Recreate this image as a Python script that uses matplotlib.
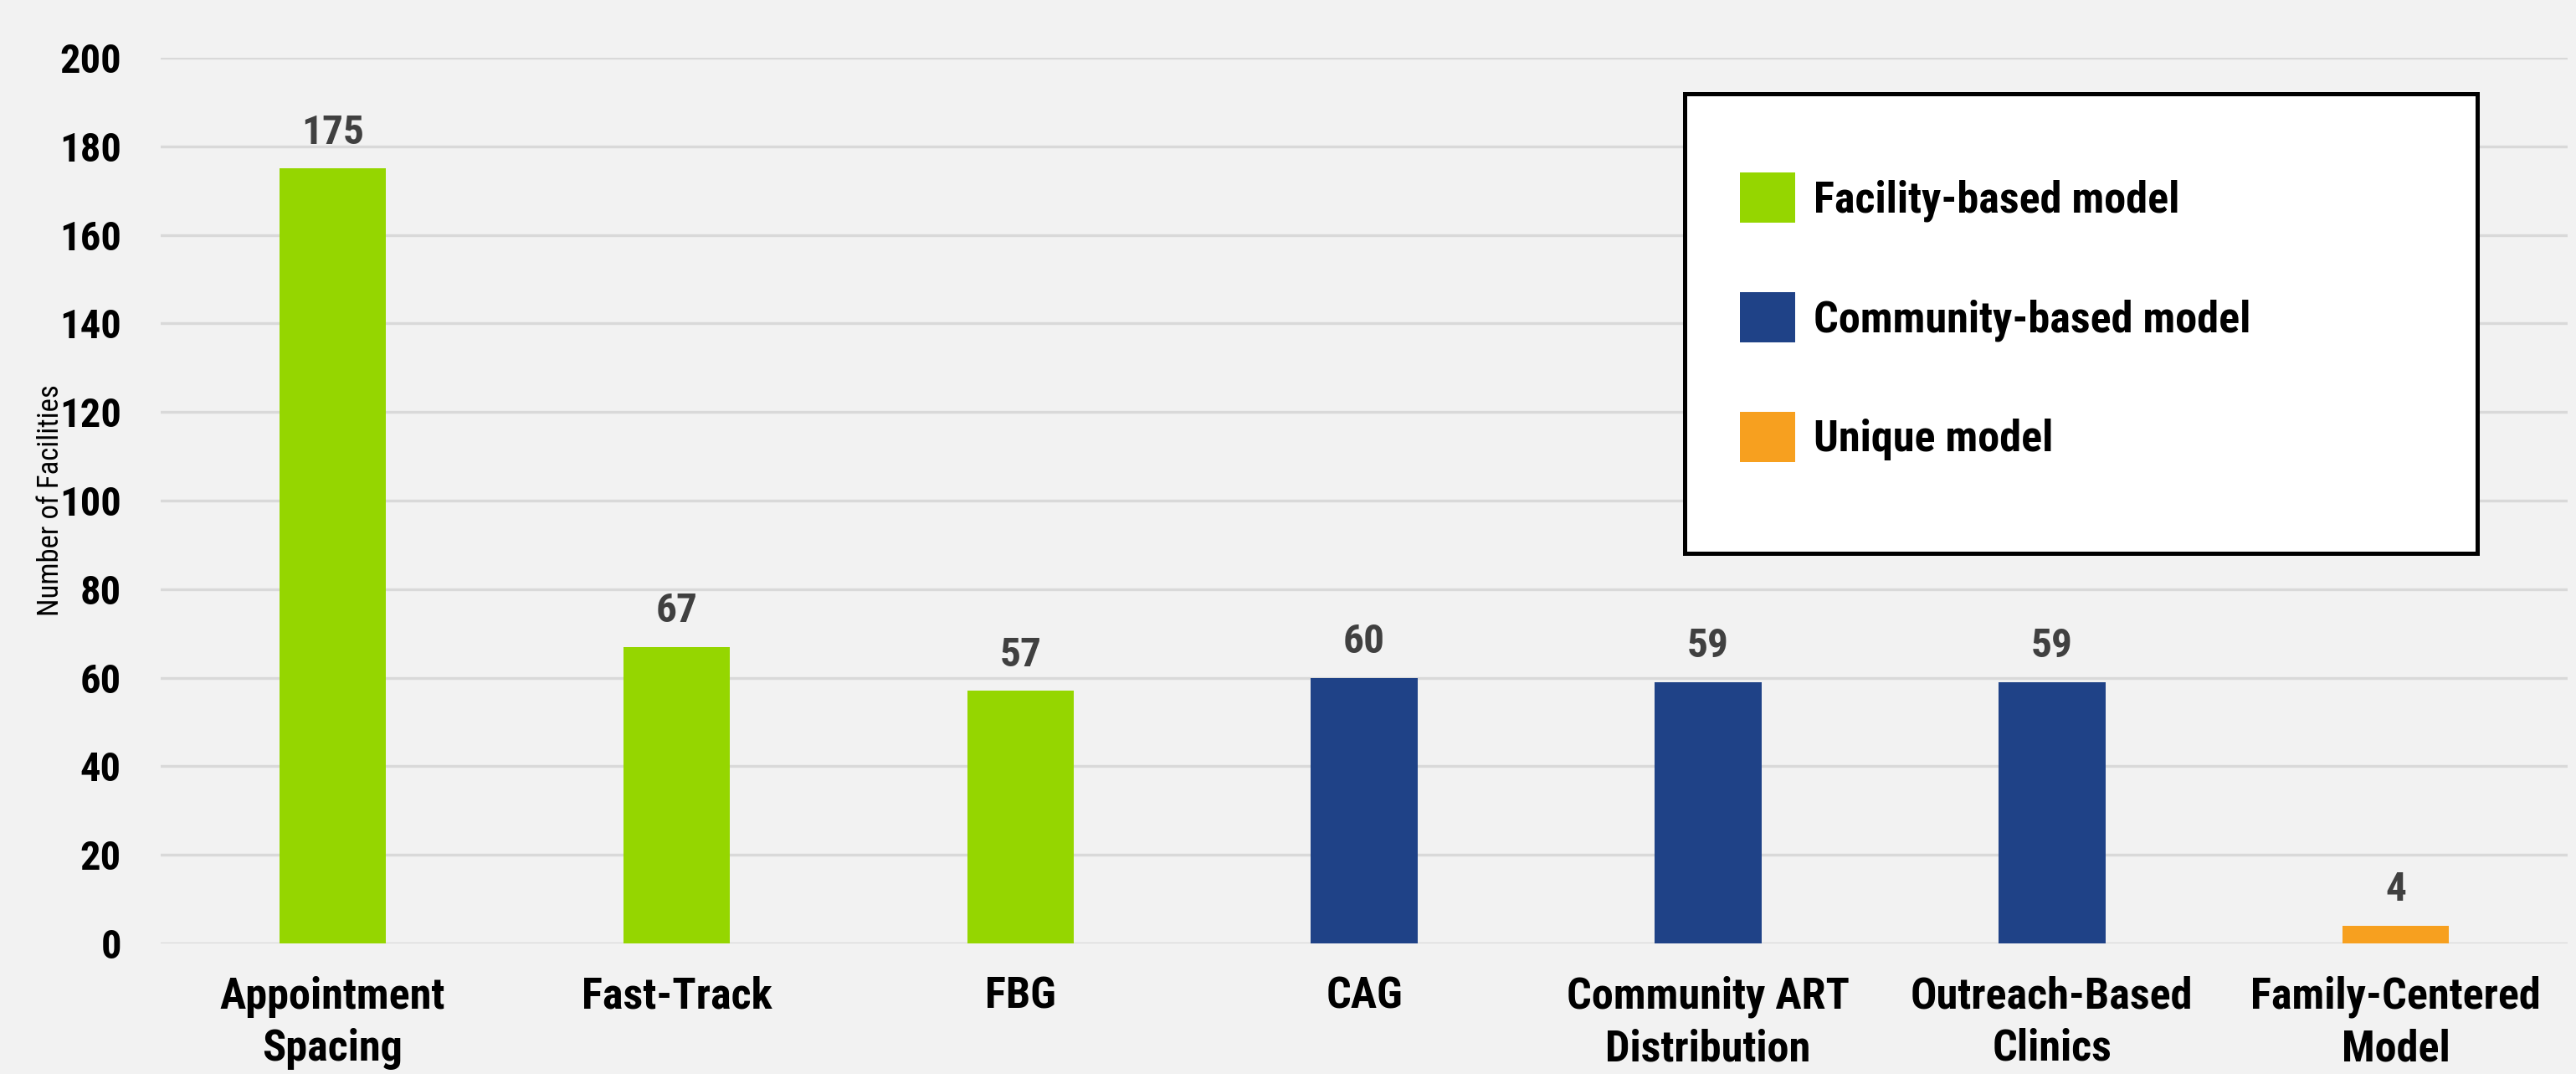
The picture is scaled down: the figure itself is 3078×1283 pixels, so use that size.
import matplotlib
matplotlib.use('Agg')
import matplotlib.pyplot as plt
from matplotlib import font_manager
from matplotlib.patches import Rectangle, Patch

categories = ['Appointment\nSpacing', 'Fast-Track', 'FBG', 'CAG',
              'Community ART\nDistribution', 'Outreach-Based\nClinics', 'Family-Centered\nModel']
values = [175, 67, 57, 60, 59, 59, 4]
groups = ['Facility-based model', 'Facility-based model', 'Facility-based model',
          'Community-based model', 'Community-based model', 'Community-based model',
          'Unique model']
group_names = ['Facility-based model', 'Community-based model', 'Unique model']
group_colors = {'Facility-based model': '#95D600',
                'Community-based model': '#1F4287',
                'Unique model': '#F7A01F'}
yticks = [0, 20, 40, 60, 80, 100, 120, 140, 160, 180, 200]


def has_bold(name):
    for f in font_manager.fontManager.ttflist:
        if f.name == name:
            w = f.weight
            if (isinstance(w, int) and w >= 600) or w in ('bold', 'heavy', 'black', 'semibold', 'demibold'):
                return True
    return False


# narrow bold font, Arial Narrow look-alike
candidates = ['Nimbus Sans Narrow', 'Liberation Sans Narrow', 'Arial Narrow', 'Roboto Condensed',
              'PT Sans Narrow', 'Archivo Narrow', 'Pragati Narrow', 'Asap Condensed',
              'Barlow Semi Condensed', 'Liberation Sans']
FONT = [n for n in candidates if has_bold(n)][:1] + ['DejaVu Sans']
plt.rcParams['font.family'] = FONT

bg = '#F2F2F2'
fig = plt.figure(figsize=(15.39, 6.415), dpi=200, facecolor=bg)
ax = fig.add_axes([0.0624, 0.1216, 0.9344, 0.8246])
ax.set_facecolor(bg)

x = list(range(len(categories)))
colors = [group_colors[g] for g in groups]
bars = ax.bar(x, values, width=0.31, color=colors, zorder=3)

for xi, v in zip(x, values):
    ax.annotate(str(v), (xi, v), xytext=(0, 7), textcoords='offset points',
                ha='center', va='bottom', fontsize=17.8, fontweight='bold',
                color='#404040')

ax.set_xlim(-0.5, len(categories) - 0.5)
ax.set_ylim(0, 200)
ax.set_yticks(yticks)
ax.set_xticks(x)
ax.set_xticklabels(categories, fontsize=18.8, fontweight='bold', linespacing=1.3)
ax.tick_params(axis='y', length=0, pad=17, labelsize=17.5)
ax.tick_params(axis='x', length=0, pad=14)
for lab in ax.get_yticklabels():
    lab.set_fontweight('bold')
ax.grid(axis='y', color='#D9D9D9', linewidth=1.2, zorder=0)
for s in ax.spines.values():
    s.set_visible(False)

ax.set_ylabel('Number of Facilities', fontsize=12.5)
ax.yaxis.set_label_coords(-0.040, 0.5)

# legend box
ax.add_patch(Rectangle((0.633, 0.4405), 0.3294, 0.5185, transform=ax.transAxes,
                       facecolor='white', edgecolor='black', linewidth=1.8,
                       zorder=5, clip_on=False))
handles = [Patch(facecolor=group_colors[g], edgecolor='none') for g in group_names]
leg = ax.legend(handles, group_names, loc='upper left', bbox_to_anchor=(0.656, 0.8705),
                frameon=False, borderpad=0, borderaxespad=0, handlelength=1.27,
                handleheight=1.4, handletextpad=0.42, labelspacing=1.58,
                prop={'family': FONT, 'weight': 'bold', 'size': 18.8})
leg.set_zorder(6)

fig.savefig('out.png', dpi=200, facecolor=bg)
